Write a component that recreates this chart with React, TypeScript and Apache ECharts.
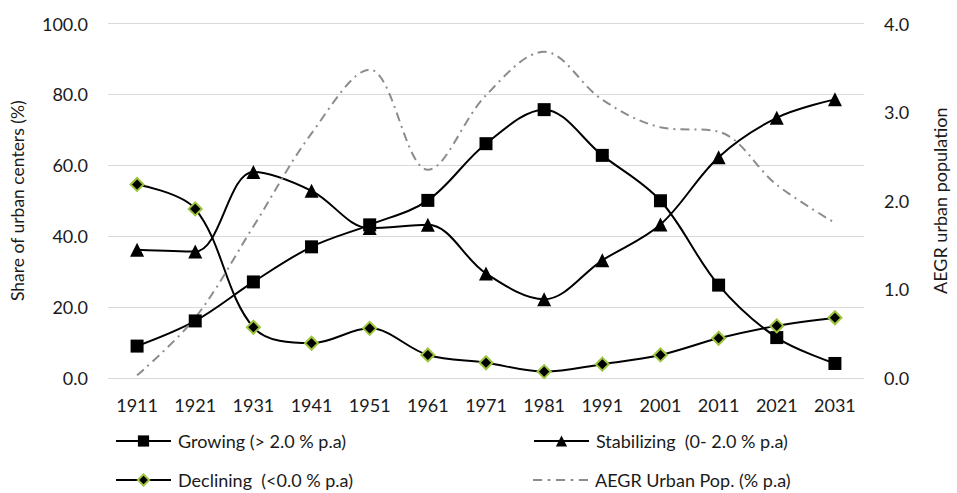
import React, { useEffect, useRef } from "react";
import * as echarts from "echarts";

const years = ["1911", "1921", "1931", "1941", "1951", "1961", "1971", "1981", "1991", "2001", "2011", "2021", "2031"];
const growing = [9.0, 16.1, 27.1, 37.0, 43.2, 50.1, 66.1, 75.7, 62.8, 50.0, 26.2, 11.4, 4.1];
const stabilizing = [36.2, 35.7, 58.1, 52.8, 42.3, 43.2, 29.5, 22.2, 33.2, 43.3, 62.3, 73.4, 78.6];
const declining = [54.6, 47.7, 14.3, 9.8, 14.0, 6.5, 4.3, 1.8, 3.9, 6.5, 11.2, 14.7, 17.0];
const aegr = [0.03, 0.68, 1.71, 2.76, 3.48, 2.35, 3.19, 3.68, 3.14, 2.83, 2.78, 2.18, 1.75];
const leftTicks = [0, 20, 40, 60, 80, 100];
const rightTicks = [0, 1, 2, 3, 4];

const names = {
  g: "Growing (> 2.0 % p.a)",
  s: "Stabilizing  (0- 2.0 % p.a)",
  d: "Declining  (<0.0 % p.a)",
  a: "AEGR Urban Pop. (% p.a)",
};

const FONT = "Lato";
const FS = 18;
const TXT = "#1a1a1a";

const dashIcon =
  "path://M0,6h10v2h-10z M16,6h3v2h-3z M25,6h10v2h-10z M41,6h3v2h-3z M50,6h10v2h-10z";

export default function App() {
  const ref = useRef<HTMLDivElement>(null);
  useEffect(() => {
    const chart = echarts.init(ref.current!, null, { renderer: "svg" });
    const legendBase = {
      orient: "horizontal",
      itemWidth: 55,
      itemHeight: 14,
      itemGap: 0,
      padding: 0,
      textStyle: { fontFamily: FONT, fontSize: FS, color: TXT, padding: [0, 0, 0, 2] },
    };
    chart.setOption({
      animation: false,
      backgroundColor: "#ffffff",
      textStyle: { fontFamily: FONT },
      grid: { left: 108, right: 79, top: 23.5, bottom: 115, containLabel: false },
      legend: [
        { ...legendBase, data: [names.g], left: 115, top: 432 },
        { ...legendBase, data: [names.s], left: 533, top: 432 },
        { ...legendBase, data: [names.d], left: 115, top: 471 },
        {
          ...legendBase,
          data: [{ name: names.a, icon: dashIcon }],
          itemHeight: 3,
          left: 533,
          top: 471,
        },
      ],
      xAxis: {
        type: "category",
        data: years,
        boundaryGap: true,
        axisLine: { show: false },
        axisTick: { show: false },
        axisLabel: { fontFamily: FONT, fontSize: FS, color: TXT, margin: 18 },
      },
      yAxis: [
        {
          type: "value",
          min: 0,
          max: 100,
          interval: 20,
          name: "Share of urban centers (%)",
          nameLocation: "middle",
          nameGap: 82,
          nameTextStyle: { fontFamily: FONT, fontSize: 17.5, color: TXT },
          axisLabel: {
            fontFamily: FONT,
            fontSize: FS,
            color: TXT,
            margin: 20,
            formatter: (v: number) => (leftTicks.includes(v) ? v.toFixed(1) : ""),
          },
          splitLine: { lineStyle: { color: "#d9d9d9", width: 1 } },
          axisLine: { show: false },
          axisTick: { show: false },
        },
        {
          type: "value",
          min: 0,
          max: 4,
          interval: 1,
          name: "AEGR urban population",
          nameLocation: "middle",
          nameGap: 67,
          nameRotate: 90,
          nameTextStyle: { fontFamily: FONT, fontSize: FS, color: TXT },
          axisLabel: {
            fontFamily: FONT,
            fontSize: FS,
            color: TXT,
            margin: 20,
            formatter: (v: number) => (rightTicks.includes(v) ? v.toFixed(1) : ""),
          },
          splitLine: { show: false },
          axisLine: { show: false },
          axisTick: { show: false },
        },
      ],
      series: [
        {
          name: names.g,
          type: "line",
          data: growing,
          smooth: 0.35,
          symbol: "rect",
          symbolSize: 13,
          itemStyle: { color: "#000000" },
          lineStyle: { color: "#000000", width: 2 },
        },
        {
          name: names.s,
          type: "line",
          data: stabilizing,
          smooth: 0.35,
          symbol: "triangle",
          symbolSize: 14,
          itemStyle: { color: "#000000" },
          lineStyle: { color: "#000000", width: 2 },
        },
        {
          name: names.d,
          type: "line",
          data: declining,
          smooth: 0.35,
          symbol: "diamond",
          symbolSize: 13,
          itemStyle: { color: "#000000", borderColor: "#9cc43c", borderWidth: 2 },
          lineStyle: { color: "#000000", width: 2 },
        },
        {
          name: names.a,
          type: "line",
          yAxisIndex: 1,
          data: aegr,
          smooth: 0.35,
          symbol: "none",
          itemStyle: { color: "#8c8c8c" },
          lineStyle: { color: "#8c8c8c", width: 2, type: [9, 5, 2, 5] },
        },
      ],
    });
    return () => chart.dispose();
  }, []);
  return (
    <div
      ref={ref}
      style={{ position: "fixed", left: 0, top: 0, width: 957, height: 493 }}
    />
  );
}
